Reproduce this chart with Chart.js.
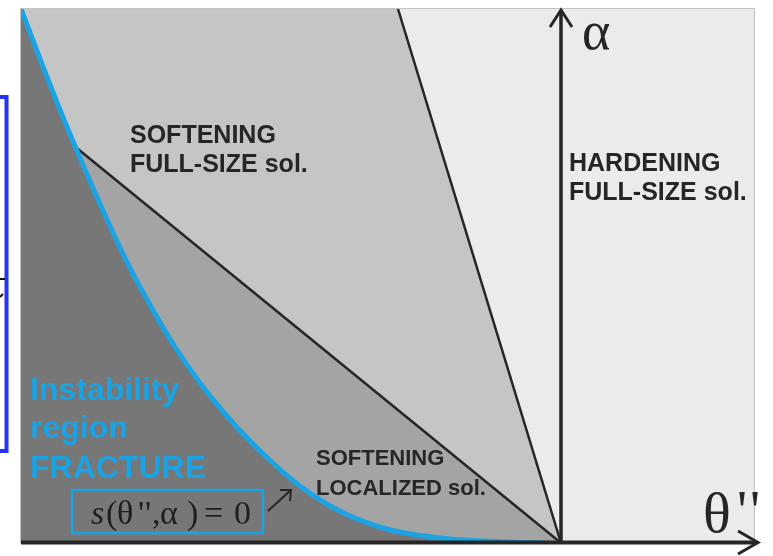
<!DOCTYPE html>
<html>
<head>
<meta charset="utf-8">
<script src="https://cdn.jsdelivr.net/npm/chart.js@4/dist/chart.umd.min.js"></script>
<style>
  html, body { margin: 0; padding: 0; background: #ffffff; }
  canvas { display: block; }
</style>
</head>
<body>
<canvas id="phaseChart" width="773" height="556"></canvas>
<script>
// stability boundary s(theta'', alpha) = 0
const curveTheta = [-5.40, -5.21, -5.01, -4.81, -4.61, -4.36, -4.11, -3.86, -3.61, -3.36, -3.11,
  -2.86, -2.61, -2.36, -2.11, -1.78, -1.44, -1.11, -0.78, -0.41, -0.16];
const curveAlpha = [5.34, 4.84, 4.33, 3.85, 3.39, 2.85, 2.38, 1.96, 1.60, 1.29, 1.02,
  0.78, 0.57, 0.40, 0.27, 0.15, 0.08, 0.04, 0.02, 0.005, 0];

// limit between full-size and localized softening solutions
const localTheta = [-4.88, 0];
const localAlpha = [3.98, 0];

// limit of the softening full-size region
const softTheta = [-5.40, -1.63, 0];
const softAlpha = [5.34, 5.34, 0];
const steepTheta = [-1.63, 0];
const steepAlpha = [5.34, 0];

const thetaRange = [-5.40, 1.93];
const alphaRange = [0, 5.34];

const toPoints = (xs, ys) => xs.map((x, i) => ({ x: x, y: ys[i] }));

const BLUE = "#1ba3e3";
const INK = "#262626";
const SERIF = "'Liberation Serif', 'Times New Roman', serif";
const SANS = "'Liberation Sans', Arial, sans-serif";

// background panel, axes with arrows and the labels
const diagramPlugin = {
  id: "diagram",
  beforeDatasetsDraw(chart) {
    const { ctx, chartArea: a } = chart;
    ctx.save();
    ctx.fillStyle = "#ebebeb";
    ctx.fillRect(a.left, a.top, a.right - a.left, a.bottom - a.top);
    ctx.restore();
  },
  afterDatasetsDraw(chart) {
    const { ctx, chartArea: a } = chart;
    const xs = chart.scales.x;
    const ys = chart.scales.y;
    const x0 = xs.getPixelForValue(0);
    const y0 = ys.getPixelForValue(0);

    ctx.save();
    // panel border
    ctx.strokeStyle = "#c2c2c2";
    ctx.lineWidth = 1;
    ctx.strokeRect(a.left - 0.5, a.top - 0.5, a.right - a.left + 1, a.bottom - a.top);

    ctx.strokeStyle = INK;
    ctx.lineCap = "butt";
    // theta'' axis
    ctx.lineWidth = 4;
    ctx.beginPath();
    ctx.moveTo(a.left, y0 - 0.5);
    ctx.lineTo(a.right + 3, y0 - 0.5);
    ctx.stroke();
    ctx.lineWidth = 3;
    ctx.beginPath();
    ctx.moveTo(a.right - 16, y0 - 12);
    ctx.lineTo(a.right + 4, y0 - 0.5);
    ctx.lineTo(a.right - 16, y0 + 11);
    ctx.stroke();

    // alpha axis
    ctx.lineWidth = 3.5;
    ctx.beginPath();
    ctx.moveTo(x0, y0);
    ctx.lineTo(x0, a.top + 1);
    ctx.stroke();
    ctx.lineWidth = 3;
    ctx.beginPath();
    ctx.moveTo(x0 - 11, a.top + 18);
    ctx.lineTo(x0, a.top + 1);
    ctx.lineTo(x0 + 11, a.top + 18);
    ctx.stroke();

    // region names
    ctx.textBaseline = "alphabetic";
    ctx.textAlign = "left";
    ctx.fillStyle = INK;
    ctx.font = "bold 25px " + SANS;
    ctx.fillText("SOFTENING", 130, 143);
    ctx.fillText("FULL-SIZE sol.", 130, 172);
    ctx.fillText("HARDENING", 569, 171);
    ctx.fillText("FULL-SIZE sol.", 569, 200);
    ctx.font = "bold 22px " + SANS;
    ctx.fillText("SOFTENING", 316, 465);
    ctx.fillText("LOCALIZED sol.", 316, 495);

    ctx.fillStyle = BLUE;
    ctx.font = "bold 32px " + SANS;
    ctx.fillText("Instability", 30, 400);
    ctx.fillText("region", 30, 438);
    ctx.fillText("FRACTURE", 30, 478);

    // boundary equation in its box
    ctx.strokeStyle = BLUE;
    ctx.lineWidth = 2.5;
    ctx.strokeRect(72, 490, 191, 43);
    ctx.fillStyle = "#1e1e1e";
    const glyphs = [["s", 91, true], ["(", 106], ["θ", 117], ["'", 138], ["'", 145], [",", 152],
      ["α", 160], [")", 187], ["=", 204], ["0", 234]];
    glyphs.forEach(([t, gx, it]) => {
      ctx.font = (it ? "italic " : "") + "34px " + SERIF;
      ctx.fillText(t, gx, 524);
    });

    // pointer to the curve
    ctx.strokeStyle = INK;
    ctx.lineWidth = 2;
    ctx.beginPath();
    ctx.moveTo(268, 511);
    ctx.lineTo(291, 490);
    ctx.moveTo(280, 490);
    ctx.lineTo(291, 490);
    ctx.lineTo(290, 501);
    ctx.stroke();

    // axis names
    ctx.fillStyle = INK;
    ctx.font = "54px " + SERIF;
    ctx.fillText("α", 582, 49);
    ctx.font = "58px " + SERIF;
    ctx.fillText("θ", 703, 532);
    ctx.font = "56px " + SERIF;
    ctx.fillText("'", 737, 530);
    ctx.fillText("'", 750, 530);

    // frame at the left edge
    ctx.strokeStyle = "#2233ff";
    ctx.lineWidth = 4;
    ctx.strokeRect(-10, 97, 16.5, 354);
    ctx.strokeStyle = "#111111";
    ctx.lineWidth = 2;
    ctx.beginPath();
    ctx.moveTo(0, 279);
    ctx.lineTo(5, 279);
    ctx.moveTo(0, 297);
    ctx.lineTo(3, 294);
    ctx.stroke();
    ctx.restore();
  }
};

new Chart(document.getElementById("phaseChart"), {
  type: "scatter",
  data: {
    datasets: [
      {
        // softening, full-size solutions
        data: toPoints(softTheta, softAlpha),
        showLine: true,
        borderWidth: 0,
        borderColor: "rgba(0,0,0,0)",
        backgroundColor: "#c5c5c5",
        fill: "start",
        tension: 0,
        pointRadius: 0,
        order: 6,
      },
      {
        data: toPoints(steepTheta, steepAlpha),
        showLine: true,
        borderWidth: 2.5,
        borderColor: INK,
        fill: false,
        tension: 0,
        pointRadius: 0,
        order: 5,
      },
      {
        // softening, localized solutions
        data: toPoints(localTheta, localAlpha),
        showLine: true,
        borderWidth: 2.5,
        borderColor: INK,
        borderCapStyle: "round",
        backgroundColor: "#a4a4a4",
        fill: "start",
        tension: 0,
        pointRadius: 0,
        order: 4,
      },
      {
        // instability region (fracture)
        data: toPoints(curveTheta, curveAlpha),
        showLine: true,
        borderWidth: 5,
        borderColor: BLUE,
        backgroundColor: "#777777",
        fill: "start",
        cubicInterpolationMode: "monotone",
        pointRadius: 0,
        order: 3,
      },
    ],
  },
  options: {
    responsive: false,
    animation: false,
    layout: { padding: { left: 21, right: 19, top: 9, bottom: 13 } },
    scales: {
      x: { type: "linear", min: thetaRange[0], max: thetaRange[1], display: false },
      y: { type: "linear", min: alphaRange[0], max: alphaRange[1], display: false },
    },
    plugins: {
      legend: { display: false },
      tooltip: { enabled: false },
    },
  },
  plugins: [diagramPlugin],
});
</script>
</body>
</html>
